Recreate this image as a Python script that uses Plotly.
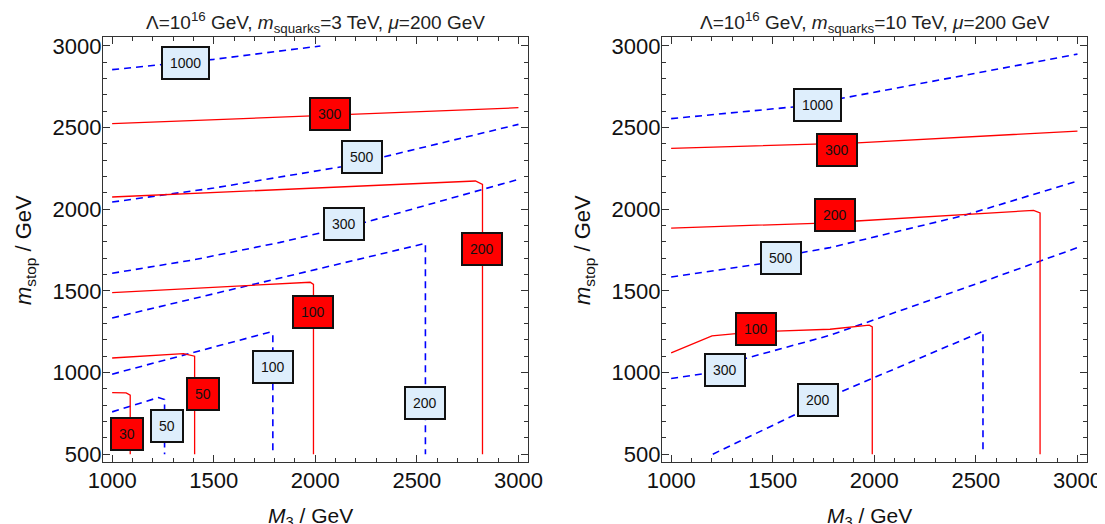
import plotly.graph_objects as go

# ---------------- data ----------------
m3_ticks = [1000, 1500, 2000, 2500, 3000]
mstop_ticks = [500, 1000, 1500, 2000, 2500, 3000]

titles = ["Λ=10<sup>16</sup> GeV, <i>m</i><sub>squarks</sub>=3 TeV, <i>μ</i>=200 GeV",
          "Λ=10<sup>16</sup> GeV, <i>m</i><sub>squarks</sub>=10 TeV, <i>μ</i>=200 GeV"]

# Left panel: m_squarks = 3 TeV
L_red_levels = [30, 50, 100, 200, 300]
L_red_x = [[1000, 1069, 1089, 1089],
           [1000, 1351, 1406, 1406],
           [1000, 1975, 1991, 1991],
           [1000, 2788, 2823, 2823],
           [1000, 3000]]
L_red_y = [[877, 875, 861, 500],
           [1089, 1116, 1100, 500],
           [1489, 1553, 1540, 500],
           [2075, 2173, 2152, 500],
           [2524, 2622]]
L_red_lab_x = [1073, 1449, 1989, 2823, 2074]
L_red_lab_y = [622, 871, 1371, 1755, 2585]

L_blue_levels = [50, 100, 200, 300, 500, 1000]
L_blue_x = [[1000, 1228, 1258, 1258],
            [1000, 1778, 1791, 1791],
            [1000, 1830, 2542, 2542],
            [1000, 1400, 1827, 2246, 3000],
            [1000, 1500, 2128, 2335, 3000],
            [1000, 1500, 2025]]
L_blue_y = [[759, 847, 835, 500],
            [990, 1248, 1232, 500],
            [1334, 1580, 1791, 500],
            [1608, 1690, 1797, 1920, 2183],
            [2044, 2130, 2260, 2320, 2520],
            [2855, 2918, 3000]]
L_blue_lab_x = [1269, 1791, 2542, 2141, 2228, 1360]
L_blue_lab_y = [673, 1034, 815, 1911, 2318, 2893]

# Right panel: m_squarks = 10 TeV
R_red_levels = [100, 200, 300]
R_red_x = [[1000, 1201, 1319, 1517, 1782, 1975, 1990, 1990],
           [1000, 1708, 1913, 2784, 2816, 2816],
           [1000, 1717, 1916, 3000]]
R_red_y = [[1120, 1225, 1238, 1253, 1265, 1290, 1280, 500],
           [1885, 1914, 1928, 1993, 1977, 500],
           [2373, 2396, 2406, 2479]]
R_red_lab_x = [1417, 1809, 1817]
R_red_lab_y = [1265, 1967, 2364]

R_blue_levels = [200, 300, 500, 1000]
R_blue_x = [[1205, 1622, 1815, 2535, 2535],
            [1000, 1165, 1365, 1782, 2576, 3000],
            [1000, 1445, 1641, 1782, 2445, 3000],
            [1000, 1612, 1847, 3000]]
R_blue_y = [[500, 749, 871, 1253, 500],
            [963, 994, 1086, 1228, 1575, 1765],
            [1585, 1667, 1734, 1765, 1963, 2173],
            [2555, 2628, 2681, 2950]]
R_blue_lab_x = [1721, 1265, 1543, 1722]
R_blue_lab_y = [830, 1014, 1703, 2637]

# ---------------- styling ----------------
OFF = 8                      # default page margin of the html body
W, H = 1105 - OFF, 524 - OFF  # figure size so it fits in the window
FONT = "Liberation Sans, Arial, sans-serif"
RED = "#ff0000"
BLUE = "#0000ff"
LABEL_RED_BG = "#ff0000"
LABEL_BLUE_BG = "#deeefc"


def px(xs):
    return (xs - OFF) / W


def py(ys):
    return (H - (ys - OFF)) / H


# plot-area boxes in window pixels (left, right, top, bottom)
panels_px = [(103, 528, 37, 462), (662, 1087, 37, 462)]

fig = go.Figure()

panels = [
    (L_red_x, L_red_y, L_red_levels, L_red_lab_x, L_red_lab_y,
     L_blue_x, L_blue_y, L_blue_levels, L_blue_lab_x, L_blue_lab_y),
    (R_red_x, R_red_y, R_red_levels, R_red_lab_x, R_red_lab_y,
     R_blue_x, R_blue_y, R_blue_levels, R_blue_lab_x, R_blue_lab_y),
]

annotations = []
for i, (rx, ry, rl, rlx, rly, bx, by, bl, blx, bly) in enumerate(panels):
    xa = "x" if i == 0 else "x2"
    ya = "y" if i == 0 else "y2"
    for xs, ys in zip(bx, by):
        fig.add_trace(go.Scatter(x=xs, y=ys, mode="lines", xaxis=xa, yaxis=ya,
                                 line=dict(color=BLUE, width=1.6, dash="7px,5px"),
                                 hoverinfo="skip", showlegend=False))
    for xs, ys in zip(rx, ry):
        fig.add_trace(go.Scatter(x=xs, y=ys, mode="lines", xaxis=xa, yaxis=ya,
                                 line=dict(color=RED, width=1.3),
                                 hoverinfo="skip", showlegend=False))
    for lev, lx, ly in zip(bl, blx, bly):
        annotations.append(dict(x=lx, y=ly, xref=xa, yref=ya, text=str(lev),
                                showarrow=False, bgcolor=LABEL_BLUE_BG,
                                bordercolor="#111111", borderwidth=2, borderpad=7,
                                font=dict(family=FONT, size=14, color="#111111")))
    for lev, lx, ly in zip(rl, rlx, rly):
        annotations.append(dict(x=lx, y=ly, xref=xa, yref=ya, text=str(lev),
                                showarrow=False, bgcolor=LABEL_RED_BG,
                                bordercolor="#111111", borderwidth=2, borderpad=7,
                                font=dict(family=FONT, size=14, color="#111111")))

    l, r, t, b = panels_px[i]
    cxp = (l + r) / 2
    # panel title
    annotations.append(dict(x=px(cxp), y=py(22), xref="paper", yref="paper",
                            text=titles[i], showarrow=False, xanchor="center",
                            yanchor="middle",
                            font=dict(family=FONT, size=19, color="#222222")))
    # x axis title
    annotations.append(dict(x=px(cxp - 5), y=py(517), xref="paper", yref="paper",
                            text="<i>M</i><sub>3</sub> / GeV", showarrow=False,
                            xanchor="center", yanchor="middle",
                            font=dict(family=FONT, size=21, color="#111111")))
    # y axis title
    ytx = 25 if i == 0 else 25 + 559
    annotations.append(dict(x=px(ytx), y=py(250), xref="paper", yref="paper",
                            text="<i>m</i><sub>stop</sub> / GeV", showarrow=False,
                            textangle=-90, xanchor="center", yanchor="middle",
                            font=dict(family=FONT, size=22, color="#111111")))

common_x = dict(range=[955, 3047], tickmode="array", tickvals=m3_ticks,
                ticks="inside", ticklen=7, tickwidth=1, tickcolor="#333333",
                showline=True, linecolor="#333333", linewidth=1.2, mirror="ticks",
                showgrid=False, zeroline=False, automargin=False,
                minor=dict(dtick=100, tick0=1000, ticks="inside", ticklen=4,
                           tickcolor="#333333", tickwidth=1),
                tickfont=dict(family=FONT, size=22, color="#111111"),
                ticklabelstandoff=-2)
common_y = dict(range=[452, 3055], tickmode="array", tickvals=mstop_ticks,
                ticks="inside", ticklen=7, tickwidth=1, tickcolor="#333333",
                showline=True, linecolor="#333333", linewidth=1.2, mirror="ticks",
                showgrid=False, zeroline=False, automargin=False,
                minor=dict(dtick=100, tick0=500, ticks="inside", ticklen=4,
                           tickcolor="#333333", tickwidth=1),
                tickfont=dict(family=FONT, size=22, color="#111111"),
                ticklabelstandoff=-4)

(l1, r1, t1, b1), (l2, r2, t2, b2) = panels_px
fig.update_layout(
    width=W, height=H,
    margin=dict(l=0, r=0, t=0, b=0, autoexpand=False),
    paper_bgcolor="white", plot_bgcolor="white",
    xaxis=dict(domain=[px(l1), px(r1)], anchor="y", **common_x),
    yaxis=dict(domain=[py(b1), py(t1)], anchor="x", **common_y),
    xaxis2=dict(domain=[px(l2), px(r2)], anchor="y2", **common_x),
    yaxis2=dict(domain=[py(b2), py(t2)], anchor="x2", **common_y),
    annotations=annotations,
    showlegend=False,
)

fig.write_html("out.html")
